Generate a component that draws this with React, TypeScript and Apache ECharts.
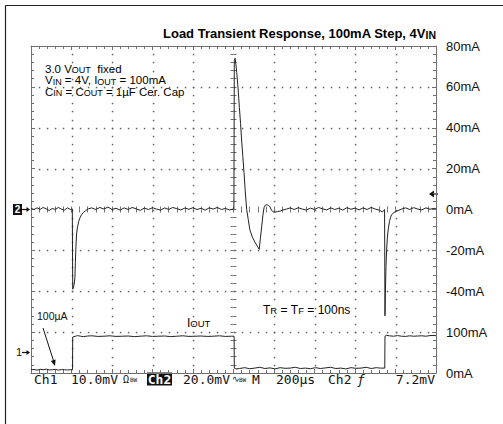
import React, { useEffect, useRef } from "react";
import * as echarts from "echarts";

// Ch2: output voltage ripple (labelled in the 20/div scale of the right axis), time in µs
const ch2Time = [
  0, 15, 30, 45, 60, 75, 90, 105, 120, 135, 150, 165, 180, 195, 204,
  206, 210, 214, 217, 219, 222, 225, 229, 235, 242, 250, 258, 270, 283,
  300, 320, 340, 360, 380, 400, 420, 440, 460, 480, 500, 520, 540, 560, 580, 600,
  620, 640, 660, 680, 700, 720, 740, 760, 780, 800, 820, 840, 860, 880, 900, 920,
  940, 960, 980, 1002,
  1004, 1008, 1012, 1016, 1022, 1029, 1035, 1040, 1046, 1052, 1058, 1065, 1073,
  1081, 1093, 1106, 1118, 1127, 1133, 1139, 1145, 1151, 1158, 1164, 1172, 1180,
  1188, 1197, 1205, 1218, 1230, 1245, 1262,
  1280, 1300, 1320, 1340, 1360, 1380, 1400, 1420, 1440, 1460, 1480, 1500, 1520,
  1540, 1560, 1580, 1600, 1620, 1640, 1660, 1680, 1700, 1720, 1735, 1746,
  1748, 1750, 1753, 1756, 1760, 1765, 1770, 1775, 1781, 1792, 1806, 1830,
  1850, 1870, 1890, 1910, 1930, 1950, 1970, 1990, 2000,
];
const ch2Value = [
  0.5, 0, 0.8, 0, 1, 0.3, -0.5, 0.5, 0, 1, 0.2, -0.3, 0.8, 0, 0.3,
  -39, -38, -36, -33, -26, -18, -12, -9, -6, -4, -2.5, -1.5, -0.5, 0.3,
  0.8, 0, 1, 0.2, 1.2, 0, 0.6, -0.3, 0.8, 0, 1, 0.3, -0.4, 0.7, 0, 0.9,
  0.2, -0.3, 0.8, 0, 1, 0.4, -0.2, 0.7, 0.1, 0.9, 0, 0.6, -0.3, 0.8, 0.2, 1,
  0, 0.5, -0.2, 0.3,
  73, 74, 71, 67, 60, 50, 42, 34, 26, 18, 9, 0, -5,
  -10, -13.5, -16, -18, -19.5, -14, -8.5, -3, 1, 2.2, 2.4, 2, 1.4,
  -0.5, -1.2, -1.3, -1, -0.8, -0.2, 0.2,
  0.8, 0, 0.9, 0.2, -0.3, 0.7, 0, 1, 0.3, -0.2, 0.8, 0, 0.6,
  -0.3, 0.9, 0.1, 0.7, -0.2, 0.8, 0, 1, 0.2, -0.3, -1.2, 0,
  -52, -41, -28, -20, -13.5, -9, -6, -4, -2.5, -1.5, -0.8, 0.2,
  0.8, 0, 0.9, 0.2, -0.2, 0.8, 0.1, 0.6, 0.3,
];

// Ch1: load current IOUT (mA), time in µs
const ch1Time = [
  0, 15, 30, 45, 60, 75, 90, 105, 120, 135, 150, 165, 180, 195, 205,
  206, 212, 220, 230, 245, 260, 280, 300, 330, 360, 390, 420, 450, 480, 510, 540,
  570, 600, 630, 660, 690, 720, 750, 780, 810, 840, 870, 900, 930, 960, 990, 1003,
  1004, 1012, 1030, 1055, 1080, 1105, 1130, 1155, 1180, 1205, 1230, 1255, 1280,
  1305, 1330, 1355, 1380, 1405, 1430, 1455, 1480, 1505, 1530, 1555, 1580, 1605,
  1630, 1655, 1680, 1705, 1725, 1747,
  1748, 1755, 1770, 1790, 1810, 1830, 1850, 1870, 1890, 1910, 1930, 1950, 1970, 1990, 2000,
];
const ch1Value = [
  8, 8.5, 7, 9, 8, 9.5, 7.5, 8, 9, 7, 8.5, 8, 7.5, 8, 8,
  88, 89, 90, 91.5, 90, 89, 90.5, 91, 89.5, 90, 91, 89.5, 90, 90.5, 89, 90,
  91, 89.5, 90, 90.5, 89, 90, 91, 89.5, 90, 90.5, 89.5, 90, 91, 89.5, 90, 90,
  12, 10, 11, 13, 10.5, 12, 14, 11, 12.5, 10, 13, 11.5, 12,
  14, 11, 12, 10.5, 13, 11, 12.5, 14, 11, 12, 10, 13, 11.5,
  12, 14, 11, 13, 12, 12,
  90, 92, 91, 90, 91.5, 90, 89.5, 91, 90, 90.5, 91, 90, 91.5, 92, 91,
];

// right-axis tick labels
const ch2LabelValues = [-40, -20, 0, 20, 40, 60, 80];
const ch1LabelValues = [0, 100];

// graticule lines (time divisions and Ch2 level divisions)
const gridTimes = [200, 400, 600, 800, 1200, 1400, 1600, 1800];
const gridLevels = [-60, -40, -20, 20, 40, 60];

const FRAME = "#707070";
const TRACE = "#222";
const SANS = "'Liberation Sans', Arial, Helvetica, sans-serif";
const MONO = "'DejaVu Sans Mono', 'Liberation Mono', monospace";

function borderX(position: "top" | "bottom") {
  return {
    type: "value",
    min: 0,
    max: 2000,
    interval: 200,
    position,
    axisLine: { show: true, onZero: false, lineStyle: { color: FRAME, width: 1 } },
    axisTick: { show: true, inside: true, length: 4, lineStyle: { color: FRAME } },
    minorTick: { show: true, splitNumber: 5, length: 3, lineStyle: { color: FRAME } },
    splitLine: { show: false },
    axisLabel: { show: false },
  };
}

function centerX(inside: boolean) {
  return {
    type: "value",
    min: -1000,
    max: 1000,
    interval: 200,
    position: "bottom",
    axisLine: { show: false, onZero: true, onZeroAxisIndex: 0 },
    axisTick: { show: true, inside, length: 3, lineStyle: { color: FRAME } },
    minorTick: { show: true, splitNumber: 5, length: 3, lineStyle: { color: FRAME } },
    splitLine: { show: false },
    axisLabel: { show: false },
  };
}

function centerY(inside: boolean) {
  return {
    type: "value",
    min: -80,
    max: 80,
    interval: 20,
    position: "left",
    axisLine: { show: false, onZero: true, onZeroAxisIndex: 2 },
    axisTick: { show: true, inside, length: 3, lineStyle: { color: FRAME } },
    minorTick: { show: true, splitNumber: 5, length: 3, lineStyle: { color: FRAME } },
    splitLine: { show: false },
    axisLabel: { show: false },
  };
}

function monoText(x: number, text: string, extra: any = {}) {
  return {
    type: "text",
    x,
    y: 379,
    style: {
      text,
      fill: "#111",
      font: `13px ${MONO}`,
      verticalAlign: "middle",
      align: "left",
      ...extra,
    },
  };
}

export default function App() {
  const ref = useRef<HTMLDivElement>(null);

  useEffect(() => {
    if (!ref.current) return;
    const chart = echarts.init(ref.current, undefined, { renderer: "svg" });

    const subRich = (size: number, bold = false) => ({
      a: { fontSize: size, fontFamily: SANS, fontWeight: bold ? "bold" : "normal", color: "#111", lineHeight: size - 1, verticalAlign: "bottom" },
      s: { fontSize: size - 2.5, fontFamily: SANS, fontWeight: bold ? "bold" : "normal", color: "#111", lineHeight: size - 4, verticalAlign: "bottom" },
    });

    // [time, level, kind] : kind 0 = vertical division line at time, 1 = horizontal at level
    const gridData = [
      ...gridTimes.map((t) => [t, 0, 0]),
      ...gridLevels.map((v) => [1000, v, 1]),
    ];

    const dotStyle = { fill: "#606060" };

    const option: any = {
      animation: false,
      grid: { left: 31, right: 67, top: 46, bottom: 51, containLabel: false },
      xAxis: [borderX("bottom"), borderX("top"), centerX(false), centerX(true)],
      yAxis: [
        {
          type: "value",
          min: -80,
          max: 80,
          interval: 20,
          position: "right",
          axisLine: { show: true, onZero: false, lineStyle: { color: FRAME, width: 1 } },
          axisTick: { show: true, inside: true, length: 4, lineStyle: { color: FRAME } },
          minorTick: { show: true, splitNumber: 5, length: 3, lineStyle: { color: FRAME } },
          splitLine: { show: false },
          axisLabel: {
            show: true,
            margin: 10,
            color: "#111",
            fontSize: 13,
            fontFamily: SANS,
            formatter: (v: number) => (ch2LabelValues.includes(v) ? `${v}mA` : ""),
          },
        },
        {
          type: "value",
          min: 0,
          max: 800,
          interval: 100,
          position: "right",
          axisLine: { show: false, onZero: false },
          axisTick: { show: false },
          splitLine: { show: false },
          axisLabel: {
            show: true,
            margin: 10,
            color: "#111",
            fontSize: 13,
            fontFamily: SANS,
            formatter: (v: number) => (ch1LabelValues.includes(v) ? `${v}mA` : ""),
          },
        },
        {
          type: "value",
          min: -80,
          max: 80,
          interval: 20,
          position: "left",
          axisLine: { show: true, onZero: false, lineStyle: { color: FRAME, width: 1 } },
          axisTick: { show: true, inside: true, length: 4, lineStyle: { color: FRAME } },
          minorTick: { show: true, splitNumber: 5, length: 3, lineStyle: { color: FRAME } },
          splitLine: { show: false },
          axisLabel: { show: false },
        },
        centerY(false),
        centerY(true),
      ],
      series: [
        {
          type: "custom",
          name: "graticule",
          coordinateSystem: "cartesian2d",
          xAxisIndex: 0,
          yAxisIndex: 0,
          silent: true,
          clip: false,
          z: 1,
          encode: { x: 0, y: 1 },
          data: gridData,
          renderItem: (_params: any, api: any) => {
            const t = api.value(0);
            const lvl = api.value(1);
            const kind = api.value(2);
            const children: any[] = [];
            if (kind === 0) {
              for (let lv = -76; lv <= 76; lv += 4) {
                const p = api.coord([t, lv]);
                children.push({ type: "rect", shape: { x: Math.round(p[0]) - 0.2, y: Math.round(p[1]) - 0.2, width: 1.5, height: 1.5 }, style: dotStyle });
              }
            } else {
              for (let tt = 40; tt <= 1960; tt += 40) {
                const p = api.coord([tt, lvl]);
                children.push({ type: "rect", shape: { x: Math.round(p[0]) - 0.2, y: Math.round(p[1]) - 0.2, width: 1.5, height: 1.5 }, style: dotStyle });
              }
            }
            return { type: "group", children };
          },
        },
        {
          type: "line",
          name: "Ch2",
          xAxisIndex: 0,
          yAxisIndex: 0,
          data: ch2Time.map((t, i) => [t, ch2Value[i]]),
          symbol: "none",
          lineStyle: { color: TRACE, width: 1 },
          z: 5,
        },
        {
          type: "line",
          name: "Ch1",
          xAxisIndex: 0,
          yAxisIndex: 1,
          data: ch1Time.map((t, i) => [t, ch1Value[i]]),
          symbol: "none",
          lineStyle: { color: TRACE, width: 1 },
          z: 5,
        },
      ],
      graphic: [
        { type: "line", shape: { x1: 5.5, y1: 5.5, x2: 503, y2: 5.5 }, style: { stroke: "#222", lineWidth: 1.2 } },
        { type: "line", shape: { x1: 5.5, y1: 5.5, x2: 5.5, y2: 424 }, style: { stroke: "#222", lineWidth: 1.2 } },
        {
          type: "text",
          x: 436,
          y: 34,
          style: {
            text: "{a|Load Transient Response, 100mA Step, 4V}{s|IN}",
            rich: subRich(13, true),
            align: "right",
            verticalAlign: "middle",
          },
        },
        {
          type: "text",
          x: 45,
          y: 69.5,
          style: { text: "{a|3.0 V}{s|OUT}{a|  fixed}", rich: subRich(11.5), align: "left", verticalAlign: "middle" },
        },
        {
          type: "text",
          x: 45,
          y: 81,
          style: { text: "{a|V}{s|IN}{a| = 4V, I}{s|OUT}{a| = 100mA}", rich: subRich(11.5), align: "left", verticalAlign: "middle" },
        },
        {
          type: "text",
          x: 45,
          y: 92.5,
          style: { text: "{a|C}{s|IN}{a| = C}{s|OUT}{a| = 1µF Cer. Cap}", rich: subRich(11.5), align: "left", verticalAlign: "middle" },
        },
        {
          type: "text",
          x: 37,
          y: 316,
          style: { text: "100µA", fill: "#111", font: `10.5px ${SANS}`, align: "left", verticalAlign: "middle" },
        },
        { type: "line", shape: { x1: 43, y1: 328, x2: 53.6, y2: 361 }, style: { stroke: "#111", lineWidth: 1 } },
        { type: "polygon", shape: { points: [[55, 366], [55.6, 359.5], [50.8, 361.1]] }, style: { fill: "#111" } },
        {
          type: "text",
          x: 187,
          y: 323,
          style: { text: "{a|I}{s|OUT}", rich: subRich(12), align: "left", verticalAlign: "middle" },
        },
        {
          type: "text",
          x: 263,
          y: 310,
          style: { text: "{a|T}{s|R}{a| = T}{s|F}{a| = 100ns}", rich: subRich(12), align: "left", verticalAlign: "middle" },
        },
        { type: "rect", shape: { x: 13, y: 204, width: 9, height: 11 }, style: { fill: "#111" } },
        { type: "text", x: 17.5, y: 209.8, style: { text: "2", fill: "#fff", font: `bold 10px ${SANS}`, align: "center", verticalAlign: "middle" } },
        { type: "line", shape: { x1: 22, y1: 209.5, x2: 28, y2: 209.5 }, style: { stroke: "#111", lineWidth: 1.2 } },
        { type: "polygon", shape: { points: [[30, 209.5], [26.5, 207], [26.5, 212]] }, style: { fill: "#111" } },
        { type: "text", x: 19, y: 352, style: { text: "1", fill: "#111", font: `11px ${SANS}`, align: "center", verticalAlign: "middle" } },
        { type: "line", shape: { x1: 22, y1: 352.5, x2: 28, y2: 352.5 }, style: { stroke: "#111", lineWidth: 1.2 } },
        { type: "polygon", shape: { points: [[30, 352.5], [26.5, 350], [26.5, 355]] }, style: { fill: "#111" } },
        { type: "polygon", shape: { points: [[429, 194], [434, 190.5], [434, 197.5]] }, style: { fill: "#111" } },
        { type: "line", shape: { x1: 433, y1: 194, x2: 438, y2: 194 }, style: { stroke: "#111", lineWidth: 1.2 } },
        monoText(34, "Ch1"),
        monoText(71, "10.0mV"),
        monoText(123, "Ω", { font: `10px ${MONO}` }),
        monoText(130, "BW", { font: `6px ${MONO}` }),
        { type: "rect", shape: { x: 147, y: 372.5, width: 25, height: 13 }, style: { fill: "#111" } },
        monoText(159.5, "Ch2", { fill: "#fff", align: "center", font: `bold 13px ${MONO}` }),
        monoText(183, "20.0mV"),
        monoText(232, "∿", { font: `9px ${MONO}` }),
        monoText(239, "BW", { font: `6px ${MONO}` }),
        monoText(252, "M"),
        monoText(276, "200µs"),
        monoText(328, "Ch2"),
        monoText(357, "ƒ", { font: `italic 13px ${MONO}` }),
        monoText(435, "7.2mV", { align: "right" }),
      ],
    };

    chart.setOption(option);
    return () => chart.dispose();
  }, []);

  return (
    <div
      ref={ref}
      style={{ position: "fixed", left: 0, top: 0, width: 503, height: 424, background: "#fff" }}
    />
  );
}
